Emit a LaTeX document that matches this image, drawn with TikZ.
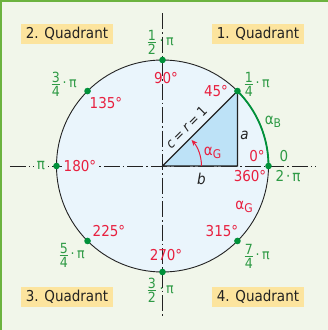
\documentclass[tikz,border=0pt]{standalone}
\usepackage{fontspec}
\setmainfont{DejaVu Sans Condensed}
\usetikzlibrary{arrows.meta}
\definecolor{bgc}{HTML}{F1F6EA}
\definecolor{bordc}{HTML}{6CB33F}
\definecolor{circc}{HTML}{EAF5FC}
\definecolor{tric}{HTML}{BDE2F7}
\definecolor{myred}{HTML}{E8203F}
\definecolor{mygreen}{HTML}{2E9A45}
\definecolor{dotc}{HTML}{00913A}
\definecolor{quadc}{HTML}{FCE49E}
\definecolor{txtc}{HTML}{222222}
\newcommand\pifr[2]{$\vcenter{\offinterlineskip\halign{\hfil##\hfil\cr\hbox{#1}\cr\noalign{\kern1.5pt}\rule{0.6em}{0.75pt}\cr\noalign{\kern1.5pt}\hbox{#2}\cr}}$}
\newcommand\sub[2]{#1\raisebox{-3.5pt}{\fontsize{12}{12}\selectfont #2}}
\begin{document}
\begin{tikzpicture}[x=1pt,y=1pt,
  axisline/.style={line width=0.8, txtc, dash pattern=on 16pt off 3pt on 1.5pt off 3pt},
  deg/.style={text=myred, font=\fontsize{15}{15}\selectfont, inner sep=0},
  rad/.style={text=mygreen, font=\fontsize{14}{14}\selectfont, inner sep=0, anchor=west},
  radbig/.style={text=mygreen, font=\fontsize{15}{15}\selectfont, inner sep=0},
  quad/.style={fill=quadc, text=txtc, minimum width=92, minimum height=20, inner sep=0, font=\fontsize{15}{15}\selectfont},
  side/.style={text=txtc, font=\fontsize{15}{15}\selectfont\itshape, inner sep=0},
  dotmark/.style={fill=dotc}
]
\useasboundingbox (-162.5,-164) rectangle (165.5,166);
\fill[bgc] (-162.5,-164) rectangle (165.5,166);
\draw[bordc, line width=1.5] (-161.5,-164) -- (-161.5,164.8) -- (165.5,164.8);
\coordinate (O) at (0,0);
\filldraw[fill=circc, draw=txtc, line width=0.9] (O) circle (106);
\draw[axisline] (-152.5,0) -- (153.5,0);
\draw[axisline] (0,153) -- (0,-152);
\foreach \a in {0,45,...,315} \coordinate (P\a) at (\a:106);
\coordinate (F) at (P45 |- O);
\filldraw[fill=tric, draw=txtc, line width=1.4, line join=miter] (O) -- (F) -- (P45) -- cycle;
\draw[dotc, line width=1.8] (P0) arc[start angle=0, end angle=45, radius=106];
\draw[myred, line width=1, -{Stealth[length=6, width=5]}] (39,0) arc[start angle=0, end angle=42, radius=39];
\foreach \a in {0,45,...,315} \fill[dotmark] (P\a) circle (3.3);
% quadrant labels
\node[quad] (q2) at (-95.5,132) {2. Quadrant};
\node[quad] (q1) at (95.5,132) {1. Quadrant};
\node[quad] (q3) at (-95.5,-131) {3. Quadrant};
\node[quad] (q4) at (95.5,-131) {4. Quadrant};
% degree labels
\node[deg] (d90) at (3.5,88) {90°};
\node[deg] (d45) at (53.5,75) {45°};
\node[deg] (d135) at (-56.5,63) {135°};
\node[deg, fill=circc, inner xsep=1.5] (d180) at (-82.5,0) {180°};
\node[deg] (d225) at (-53.5,-65) {225°};
\node[deg] (d270) at (3.5,-89) {270°};
\node[deg] (d315) at (59.5,-65) {315°};
\node[deg] (d0) at (94.5,10) {0°};
\node[deg] (d360) at (87.5,-10) {360°};
% radian labels
\node[rad] (r12) at (-15,124) {\pifr{1}{2}\kern3.5pt·\kern2.5ptπ};
\node[rad] (r14) at (82,82) {\pifr{1}{4}\kern2.5pt·\kern2.5ptπ};
\node[rad] (r34) at (-111,82) {\pifr{3}{4}\kern2.5pt·\kern2.5ptπ};
\node[rad] (r54) at (-103,-89) {\pifr{5}{4}\kern2.5pt·\kern2.5ptπ};
\node[rad] (r74) at (82,-90) {\pifr{7}{4}\kern2.5pt·\kern2.5ptπ};
\node[rad] (r32) at (-15,-124) {\pifr{3}{2}\kern3.5pt·\kern2.5ptπ};
\node[radbig, fill=bgc, inner xsep=2.5] (rpi) at (-121.5,0) {π};
\node[radbig] (r0) at (121.5,10) {0};
\node[radbig] (r2pi) at (125.5,-10) {2\kern2pt·\kern2ptπ};
% angle labels
\node[text=mygreen, font=\fontsize{15}{15}\selectfont, inner sep=0] (aB) at (110.5,44) {\sub{α}{B}};
\node[text=myred, font=\fontsize{15}{15}\selectfont, inner sep=0] (aG1) at (50,13) {\sub{α}{G}};
\node[text=myred, font=\fontsize{15}{15}\selectfont, inner sep=0] (aG2) at (81.5,-41) {\sub{α}{G}};
% sides
\node[side] (sa) at (82,31) {a};
\node[side] (sb) at (39,-13) {b};
\node[side, font=\fontsize{13.5}{13.5}\selectfont\itshape, rotate=45] (sc) at (23.8,38.7) {c\kern3pt=\kern3pt r\kern3pt=\kern3pt\upshape 1};
\end{tikzpicture}
\end{document}
